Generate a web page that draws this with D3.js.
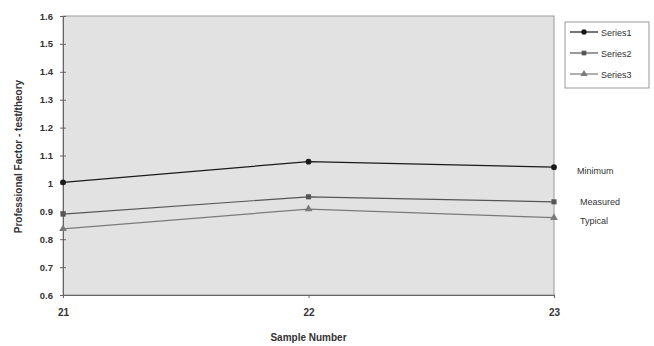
<!DOCTYPE html>
<html>
<head>
<meta charset="utf-8">
<script src="https://cdn.jsdelivr.net/npm/d3@7"></script>
<style>
  body { margin: 0; background: #fff; }
  text { font-family: "Liberation Sans", Arial, sans-serif; fill: #333; }
</style>
</head>
<body>
<div id="chart"></div>
<script>
const samples = [21, 22, 23];
const seriesNames = ["Series1", "Series2", "Series3"];
const seriesLabels = ["Minimum", "Measured", "Typical"];
const series1 = [1.004, 1.078, 1.058];
const series2 = [0.89, 0.952, 0.934];
const series3 = [0.837, 0.908, 0.877];
const yTicks = [0.6, 0.7, 0.8, 0.9, 1, 1.1, 1.2, 1.3, 1.4, 1.5, 1.6];

(function () {
  const width = 654;
  const height = 346;
  const margin = { top: 16, left: 63, right: 100, bottom: 51 };
  const plotW = width - margin.left - margin.right;
  const plotH = height - margin.top - margin.bottom;

  const allSeries = [series1, series2, series3];
  const colors = ["#1a1a1a", "#555", "#7a7a7a"];
  const shapes = [d3.symbolCircle, d3.symbolSquare, d3.symbolTriangle];
  const labelDy = [6.5, 3.5, 6];

  const svg = d3.select("#chart").append("svg")
    .attr("width", width).attr("height", height);

  const g = svg.append("g").attr("transform", `translate(${margin.left}, ${margin.top})`);

  const x = d3.scalePoint().domain(samples).range([0, plotW]);
  const y = d3.scaleLinear().domain([0.6, 1.6]).range([plotH, 0]);

  g.append("rect")
    .attr("width", plotW).attr("height", plotH)
    .attr("fill", "#e2e2e2").attr("stroke", "#9a9a9a");

  const yAxis = g.append("g")
    .call(d3.axisLeft(y).tickValues(yTicks).tickSize(3).tickFormat(d => d3.format("")(d)));
  yAxis.select(".domain").attr("stroke", "#666");
  yAxis.selectAll(".tick line").attr("stroke", "#666").attr("x2", 3).attr("x1", -3);
  yAxis.selectAll("text").attr("x", -10).attr("font-size", "9.5px").attr("font-weight", "bold").attr("fill", "#444");

  const xAxis = g.append("g").attr("transform", `translate(0, ${plotH})`)
    .call(d3.axisBottom(x).tickSize(3));
  xAxis.select(".domain").attr("stroke", "#666");
  xAxis.selectAll(".tick line").attr("stroke", "#666");
  xAxis.selectAll("text").attr("y", 14).attr("font-size", "10px").attr("font-weight", "bold").attr("fill", "#444");

  const line = d3.line().x((d, i) => x(samples[i])).y(d => y(d));

  allSeries.forEach((vals, k) => {
    g.append("path")
      .datum(vals)
      .attr("d", line)
      .attr("fill", "none")
      .attr("stroke", colors[k])
      .attr("stroke-width", 1.2);
    g.selectAll(".pt" + k)
      .data(vals)
      .join("path")
      .attr("class", "pt" + k)
      .attr("transform", (d, i) => `translate(${x(samples[i])}, ${y(d)})`)
      .attr("d", d3.symbol().type(shapes[k]).size(26))
      .attr("fill", colors[k]);
    g.append("text")
      .attr("x", plotW + (k === 0 ? 23 : 26))
      .attr("y", y(vals[vals.length - 1]) + labelDy[k])
      .attr("font-size", "9px")
      .text(seriesLabels[k]);
  });

  // axis titles
  svg.append("text")
    .attr("x", margin.left + plotW / 2)
    .attr("y", 341)
    .attr("text-anchor", "middle")
    .attr("font-size", "10px")
    .attr("font-weight", "bold")
    .text("Sample Number");

  svg.append("text")
    .attr("transform", `translate(22, ${margin.top + plotH / 2 + 1}) rotate(-90)`)
    .attr("text-anchor", "middle")
    .attr("font-size", "10px")
    .attr("font-weight", "bold")
    .text("Professional Factor - test/theory");

  // legend
  const legend = svg.append("g").attr("transform", "translate(565, 22)");
  legend.append("rect")
    .attr("width", 84).attr("height", 66)
    .attr("fill", "#fff").attr("stroke", "#999");
  seriesNames.forEach((name, k) => {
    const ly = 10 + k * 21;
    legend.append("line")
      .attr("x1", 5).attr("x2", 33).attr("y1", ly).attr("y2", ly)
      .attr("stroke", colors[k]).attr("stroke-width", 1.2);
    legend.append("path")
      .attr("transform", `translate(19, ${ly})`)
      .attr("d", d3.symbol().type(shapes[k]).size(22))
      .attr("fill", colors[k]);
    legend.append("text")
      .attr("x", 36).attr("y", ly + 3.5)
      .attr("font-size", "9px")
      .text(name);
  });
})();
</script>
</body>
</html>
